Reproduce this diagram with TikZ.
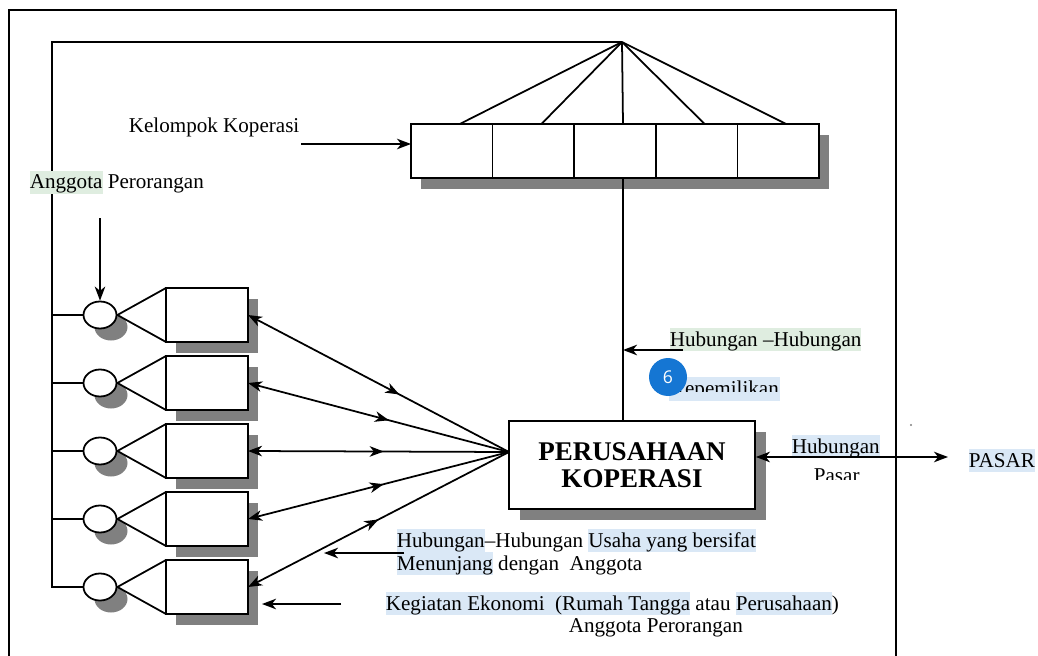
\documentclass[tikz,border=0pt]{standalone}
\usepackage{fontspec}
\setmainfont{Liberation Serif}
\newfontfamily\badgefont{Open Sans}
\usetikzlibrary{arrows.meta,shapes.geometric,shadows,positioning,decorations.markings}

\definecolor{hlgreen}{RGB}{223,237,224}
\definecolor{hlblue}{RGB}{218,232,246}
\definecolor{shadegray}{RGB}{128,128,128}
\definecolor{badgeblue}{RGB}{21,118,211}

\newlength{\px}
\setlength{\px}{0.025cm}
\newcommand{\hlg}[1]{{\setlength{\fboxsep}{0pt}\colorbox{hlgreen}{\rule[-3.5pt]{0pt}{16.5pt}#1}}}
\newcommand{\hlb}[1]{{\setlength{\fboxsep}{0pt}\colorbox{hlblue}{\rule[-3.5pt]{0pt}{16.5pt}#1}}}

\begin{document}
\begin{tikzpicture}[%
      x=0.025cm, y=-0.025cm,
      line width=1.25pt,
      >={Stealth[length=10pt,width=7.5pt,inset=3pt]},
      font=\fontsize{15}{17}\selectfont,
      lbl/.style={inner sep=0pt, anchor=base west},
      cell/.style={draw, fill=white, outer sep=0pt, minimum width=81.6\px, minimum height=54\px,
                   general shadow={fill=shadegray, shadow xshift=10\px, shadow yshift=-11\px}},
      unit/.style={cell, minimum width=82\px},
      member/.style={ellipse, draw, fill=white, inner sep=0pt, minimum width=33\px, minimum height=27\px,
                   general shadow={fill=shadegray, shadow xshift=11\px, shadow yshift=-12\px}},
      midarrow/.style={postaction={decorate},
                   decoration={markings, mark=at position #1 with {\arrow{>}}}},
      ]
      \useasboundingbox (0,0) rectangle (1038,656);
      \draw (9,656) -- (9,10) -- (896,10) -- (896,656);

      \coordinate (apex) at (622,42);
      \coordinate (tl) at (52,42);

      % kelompok koperasi
      \node[cell] (k1) at (451.8,151) {};
      \foreach \i [count=\j] in {2,...,5}
        \node[cell, right=0pt of k\j] (k\i) {};
      \foreach \i in {1,...,5}
        \draw (apex) -- ([xshift=8\px]k\i.north);

      % anggota perorangan
      \foreach \i in {1,...,5} {
        \node[member] (e\i) at (100,{315+68*(\i-1)}) {};
        \node[unit] (r\i) at (207,{315+68*(\i-1)}) {};
        \draw (e\i.east) -- (r\i.north west);
        \draw (e\i.east) -- (r\i.south west);
      }
      \draw (apex) -- (tl) |- (e5.west);
      \foreach \i in {1,...,4}
        \draw (e\i.west) -- (e\i.west -| tl);

      \node[draw, fill=white, minimum width=246\px, minimum height=88\px, align=center,
            font=\fontsize{19.2}{19.2}\selectfont\bfseries,
            general shadow={fill=shadegray, shadow xshift=11\px, shadow yshift=-11\px}]
            (pk) at (632,465) {PERUSAHAAN\\KOPERASI};

      \coordinate (kb) at ([xshift=8\px]k3.south);
      \draw (kb) -- (kb |- pk.north);

      \coordinate (hub) at (509,452);
      \foreach \i/\p in {1/0.58,2/0.54,3/0.52,4/0.52,5/0.50}
        \draw[<-, midarrow=\p] (r\i.east) -- (hub);

      % labels
      \node[lbl] (kk) at (128,133) {Kelompok Koperasi};
      \coordinate (kka) at (301,144);
      \draw[->] (kka) -- (kka -| k1.west);

      \node[lbl] (ap) at (29,189) {\hlg{Anggota} Perorangan};
      \coordinate (apa) at (100,218);
      \draw[->] (apa) -- (e1.north);

      \node[lbl] (hk) at (669,346) {\hlg{Hubungan –Hubungan}};
      \fill[hlblue] (669,377) rectangle (780,401);
      \begin{scope}
        \clip (660,370) rectangle (800,391);
        \node[lbl] (kp) at (669,395) {Kepemilikan};
      \end{scope}
      \coordinate (hka) at (683,350);
      \draw[->] (hka) -- (hka -| kb);
      \node[circle, fill=badgeblue, minimum size=38\px, inner sep=0pt, text=white,
            font=\badgefont\fontsize{12.5}{14}\selectfont] (badge) at (668,377) {6};

      \node[lbl] (hp) at (791,453) {\hlb{Hubungan}};
      \begin{scope}
        \clip (800,460) rectangle (880,479);
        \node[lbl] (ps) at (813,482) {Pasar};
      \end{scope}
      \node[lbl] (pasar) at (968,467) {\hlb{PASAR}};
      \coordinate (pa) at (948,457);
      \draw[<->] (pk.east |- pa) -- (pa);
      \fill[gray] (911,425) circle (0.3mm);

      \node[lbl] (us1) at (396,547) {\hlb{Hubungan}–Hubungan \hlb{Usaha yang bersifat}};
      \node[lbl] (us2) at (396,570) {\hlb{Menunjang} dengan\ \ Anggota};
      \coordinate (usa) at (404,553);
      \coordinate (usb) at (324,553);
      \draw[->] (usa) -- (usb);

      \node[lbl] (ke1) at (385,610) {\hlb{Kegiatan Ekonomi\ \ (Rumah Tangga} atau \hlb{Perusahaan})};
      \node[lbl] (ke2) at (568,632) {Anggota Perorangan};
      \coordinate (kea) at (341,604);
      \coordinate (keb) at (262,604);
      \draw[->] (kea) -- (keb);
\end{tikzpicture}
\end{document}
